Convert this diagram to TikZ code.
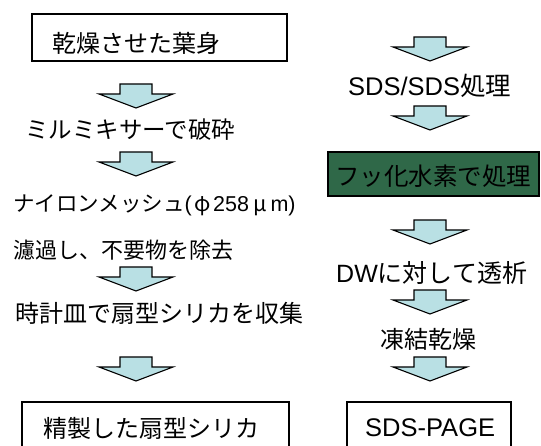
\documentclass[tikz,border=0pt]{standalone}
\usepackage{fontspec}
\setmainfont{Liberation Sans}
\newfontfamily\jp{Noto Sans CJK JP}
\definecolor{arrowfill}{RGB}{185,224,228}
\definecolor{hfgreen}{RGB}{47,104,72}
\tikzset{
  boxnode/.style={draw=black, line width=1.2pt, inner sep=0pt},
  lbl/.style={inner sep=0pt, anchor=west},
  blockarrowstyle/.style={draw=black, line width=1.1pt, fill=arrowfill, line join=miter},
  downarrow/.pic={\path[blockarrowstyle] (-16,0) -- (-16,10) -- (-37,10) -- (0,24) -- (37,10) -- (16,10) -- (16,0) -- cycle;}
}
\newcommand{\fs}[1]{\fontsize{#1}{#1}\selectfont}
\newcommand{\fw}[1]{\makebox[1em]{#1}}
\begin{document}
\begin{tikzpicture}[x=1pt,y=-1pt]
\useasboundingbox (0,0) rectangle (541,446);
\clip (0,0) rectangle (541,446);
% boxes
\node[boxnode, minimum width=255pt, minimum height=47pt] (b1) at (159.5,37.5) {};
\node[boxnode, minimum width=267pt, minimum height=60pt] (b2) at (155.5,432) {};
\node[boxnode, fill=hfgreen, minimum width=211pt, minimum height=44pt] (g) at (433.5,174) {};
\node[boxnode, minimum width=164pt, minimum height=60pt] (b3) at (429,432) {};
% left column texts
\node[lbl, font=\jp\fs{24}] (t1) at (52,43) {乾燥させた葉身};
\node[lbl, font=\jp\fs{23.5}] (t2) at (25,130) {ミルミキサーで破砕};
\node[lbl, font=\jp\fs{21.5}] (t3) at (13,205) {ナイロンメッシュ{\fontspec{Liberation Sans}(}\fw{φ}{\fontspec{Liberation Sans}258}\fw{μ}{\fontspec{Liberation Sans}m)}};
\node[lbl, font=\jp\fs{22}] (t4) at (13,250) {濾過し、不要物を除去};
\node[lbl, font=\jp\fs{24}] (t5) at (15,313) {時計皿で扇型シリカを収集};
\node[lbl, font=\jp\fs{24}] (t6) at (43,428) {精製した扇型シリカ};
% right column texts
\node[lbl, font=\fs{25.5}] (r1) at (348,86) {SDS/SDS{\jp 処理}};
\node[lbl, font=\jp\fs{24.5}] (r2) at (335,176) {フッ化水素で処理};
\node[lbl, font=\fs{25}] (r3) at (336,273) {DW{\jp に対して透析}};
\node[lbl, font=\jp\fs{24}] (r4) at (380,339) {凍結乾燥};
\node[lbl, font=\fs{25.5}] (r5) at (365,428) {SDS-PAGE};
% block arrows
\pic at (136,84) {downarrow};
\pic at (136,152) {downarrow};
\pic at (136,267) {downarrow};
\pic at (136,357) {downarrow};
\pic at (430,37) {downarrow};
\pic at (430,106) {downarrow};
\pic at (430,220) {downarrow};
\pic at (430,290) {downarrow};
\pic at (430,357) {downarrow};
\end{tikzpicture}
\end{document}
